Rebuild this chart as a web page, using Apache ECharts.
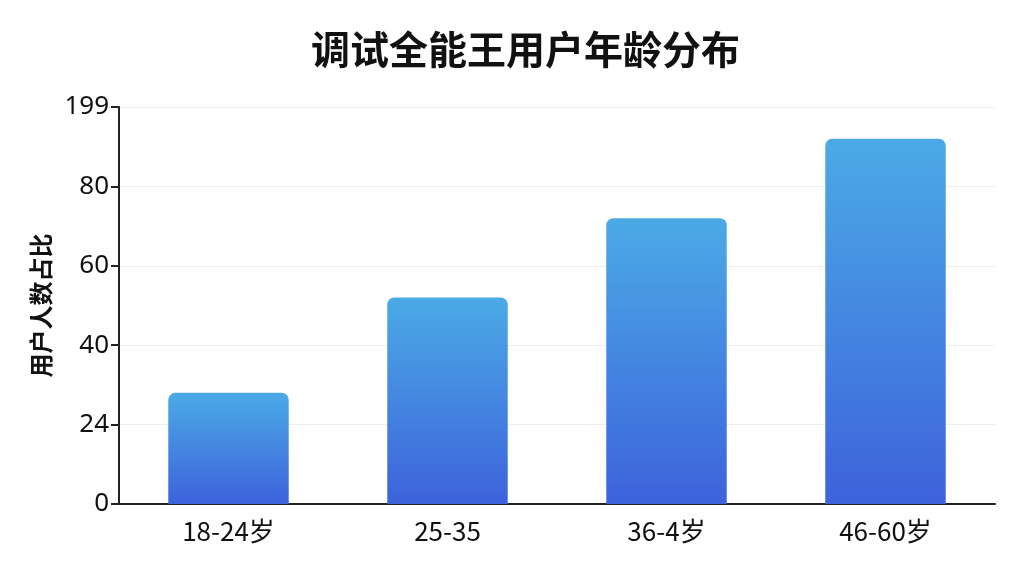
<!DOCTYPE html>
<html><head><meta charset="utf-8">
<script src="https://cdn.jsdelivr.net/npm/echarts@6/dist/echarts.min.js"></script>
<style>html,body{margin:0;padding:0;background:#fff}#c{width:1024px;height:576px}</style>
</head><body><div id="c"></div>
<script>
const categories = ['18-24岁', '25-35', '36-4岁', '46-60岁'];
const values = [28, 52, 72, 92];
const yTickLabels = ['0', '24', '40', '60', '80', '199'];
const titleText = '调试全能王用户年龄分布';
const yAxisName = '用户人数占比';

const chart = echarts.init(document.getElementById('c'));
chart.setOption({
  backgroundColor: '#ffffff',
  animation: false,
  title: {
    text: titleText, left: 306, top: 25,
    textStyle: { fontSize: 39, fontWeight: 'bold', color: '#111', fontFamily: 'Noto Sans CJK SC' }
  },
  grid: { left: 119, right: 29, top: 107, bottom: 72 },
  xAxis: {
    type: 'category', data: categories,
    axisLine: { lineStyle: { color: '#222', width: 2 } },
    axisTick: { alignWithLabel: true, length: 8, lineStyle: { color: '#222', width: 2 } },
    axisLabel: { fontSize: 26, color: '#111', margin: 14, fontFamily: 'Noto Sans CJK SC' }
  },
  yAxis: {
    type: 'value', min: 0, max: 100, interval: 20,
    name: yAxisName, nameLocation: 'middle', nameGap: 66, nameRotate: 90,
    nameTextStyle: { fontSize: 24, fontWeight: 'bold', color: '#111', fontFamily: 'Noto Sans CJK SC' },
    axisLine: { show: true, lineStyle: { color: '#222', width: 2 } },
    axisTick: { show: true, length: 8, inside: false, lineStyle: { color: '#222', width: 2 } },
    axisLabel: {
      fontSize: 26, color: '#111', margin: 10, fontFamily: 'Noto Sans',
      formatter: (v) => yTickLabels[Math.round(v / 20)]
    },
    splitLine: { lineStyle: { color: '#eeeeee', width: 1 } }
  },
  series: [{
    type: 'bar', data: values, barWidth: '55%',
    itemStyle: {
      borderRadius: [7, 7, 0, 0],
      color: new echarts.graphic.LinearGradient(0, 0, 0, 1, [
        { offset: 0, color: '#4BAAE6' },
        { offset: 1, color: '#3D62DB' }
      ])
    }
  }]
});
</script></body></html>
